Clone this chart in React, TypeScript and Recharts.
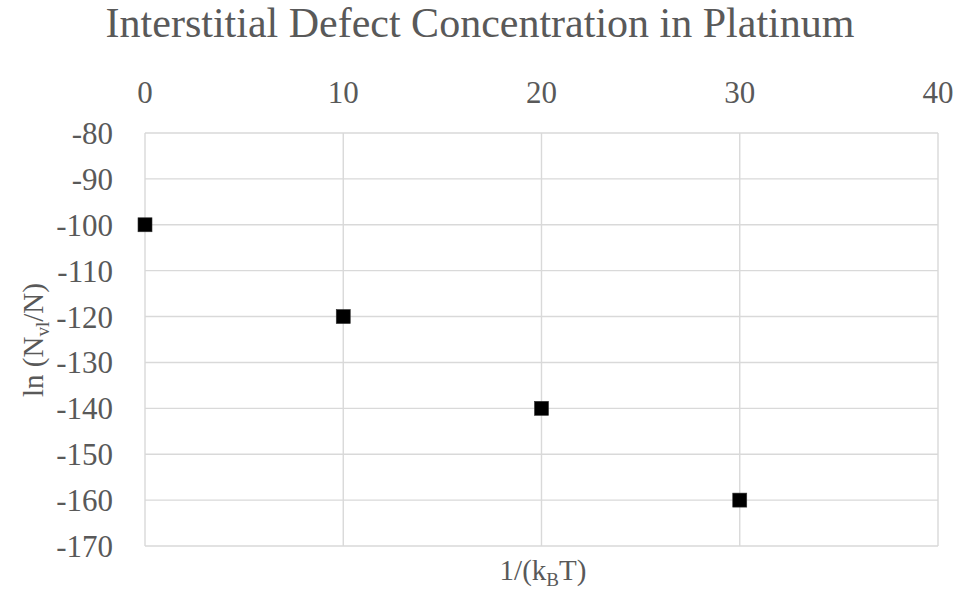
import React from 'react';
import { ScatterChart, Scatter, XAxis, YAxis, CartesianGrid, Customized } from 'recharts';

const xValues = [0, 10, 20, 30];
const yValues = [-100, -120, -140, -160];
const xTicks = [0, 10, 20, 30, 40];
const yTicks = [-80, -90, -100, -110, -120, -130, -140, -150, -160, -170];

const data = xValues.map((x, i) => ({ x, y: yValues[i] }));

const FONT = '"Liberation Serif", "Times New Roman", serif';
const GRAY = '#595959';

const SquareShape = (props: any) => {
  const { cx, cy } = props;
  if (cx == null || cy == null) return null;
  return <rect x={cx - 7} y={cy - 7} width={14} height={14} fill="#000" stroke="#333" strokeWidth={0.6} />;
};

const AxisTitles = () => (
  <g>
    <text x={543} y={580} textAnchor="middle" fill={GRAY} fontFamily={FONT} fontSize={29}>
      1/(k<tspan fontSize={19} dy={6}>B</tspan><tspan dy={-6}>T)</tspan>
    </text>
    <text
      x={0}
      y={0}
      transform="translate(43,340) rotate(-90)"
      textAnchor="middle"
      fill={GRAY}
      fontFamily={FONT}
      fontSize={29}
    >
      ln (N<tspan fontSize={19} dy={6}>vl</tspan><tspan dy={-6}>/N)</tspan>
    </text>
  </g>
);

export default function App() {
  return (
    <div style={{ position: 'absolute', left: 0, top: 0, width: 963, height: 589, background: '#fff' }}>
      <div
        style={{
          position: 'absolute',
          left: 0,
          top: 0,
          width: 963,
          textAlign: 'center',
          fontFamily: FONT,
          fontSize: 42,
          color: GRAY,
          lineHeight: '46px',
          paddingRight: 3,
          boxSizing: 'border-box',
          whiteSpace: 'nowrap',
        }}
      >
        Interstitial Defect Concentration in Platinum
      </div>
      <ScatterChart width={963} height={589} margin={{ top: 93, right: 25, bottom: 43, left: 0 }}>
        <CartesianGrid stroke="#d9d9d9" strokeWidth={1.4} />
        <XAxis
          type="number"
          dataKey="x"
          orientation="top"
          domain={[0, 40]}
          ticks={xTicks}
          height={40}
          axisLine={false}
          tickLine={false}
          tickSize={0}
          tickMargin={30}
          tick={{ fill: GRAY, fontSize: 31, fontFamily: FONT }}
          interval={0}
        />
        <YAxis
          type="number"
          dataKey="y"
          domain={[-170, -80]}
          ticks={yTicks}
          width={145}
          axisLine={false}
          tickLine={false}
          tickSize={0}
          tickMargin={32}
          tick={{ fill: GRAY, fontSize: 31, fontFamily: FONT }}
          interval={0}
        />
        <Scatter data={data} shape={SquareShape} isAnimationActive={false} />
        <Customized component={AxisTitles} />
      </ScatterChart>
    </div>
  );
}
